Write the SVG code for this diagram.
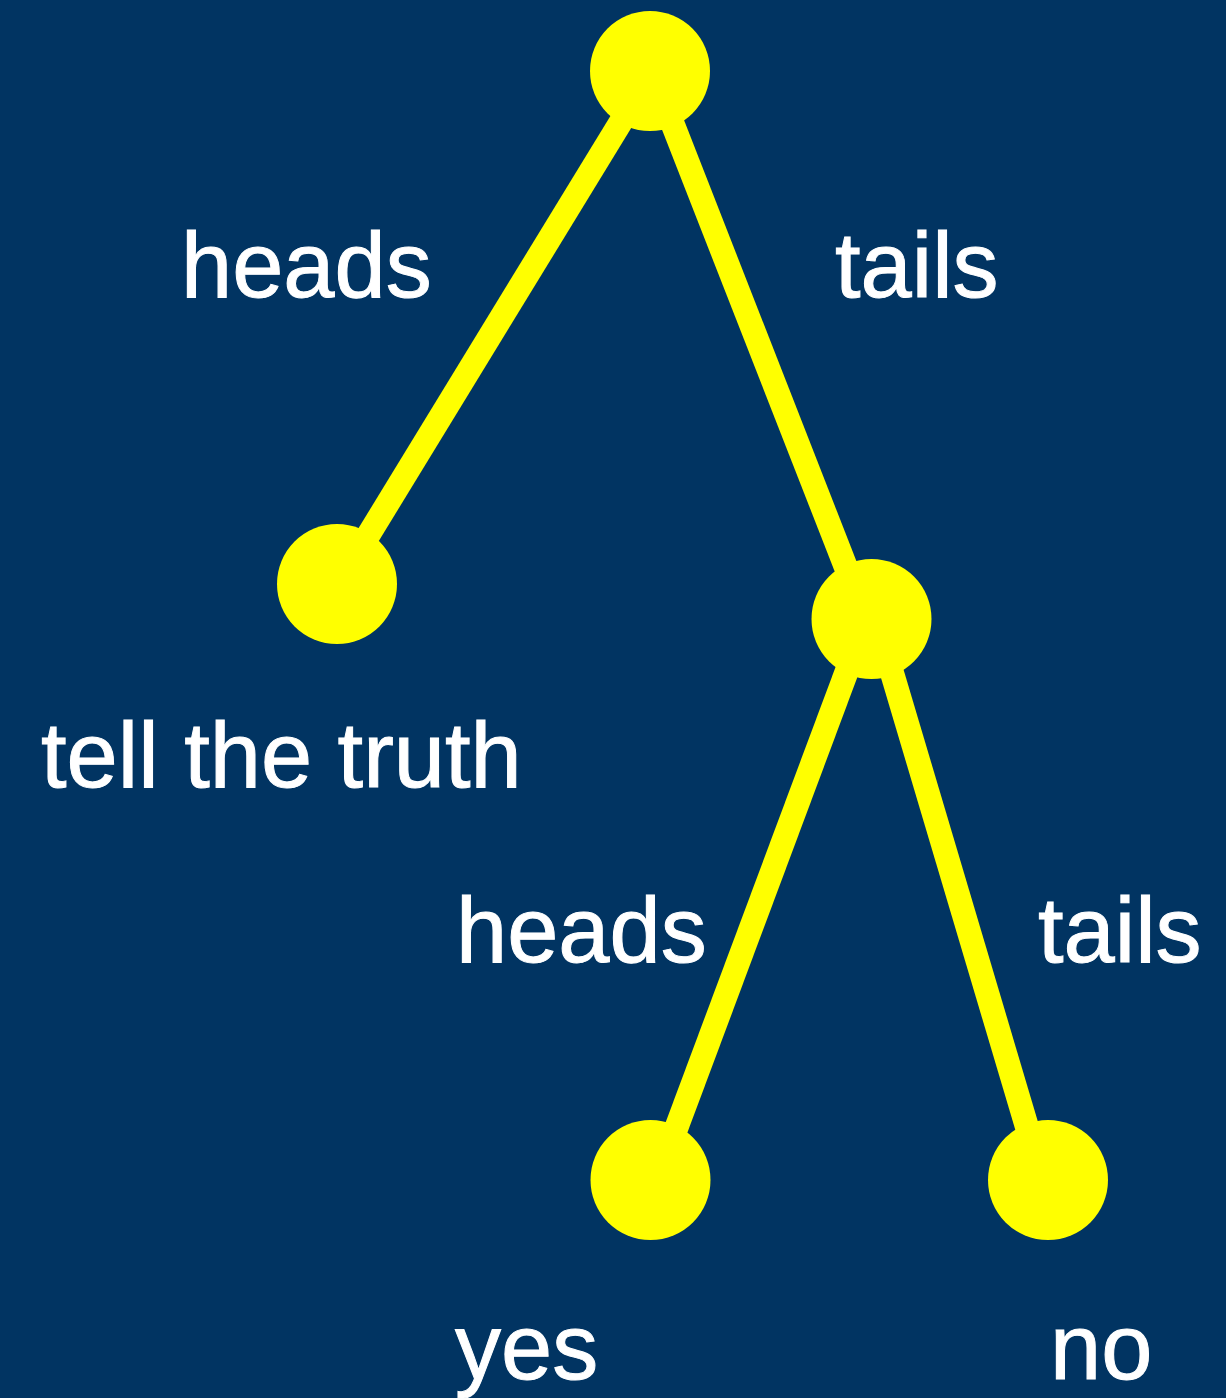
<svg xmlns="http://www.w3.org/2000/svg" width="1226" height="1398" viewBox="0 0 1226 1398">
  <style>
    .edge { stroke: #ffff00; stroke-width: 24; stroke-linecap: butt; fill: none; }
    .node { fill: #ffff00; }
    .lbl { fill: #ffffff; stroke: #ffffff; stroke-width: 1; font-family: "Liberation Sans", Arial, Helvetica, sans-serif; font-size: 92px; }
  </style>
  <rect x="0" y="0" width="1226" height="1398" fill="#013462"/>

  <!-- branches of the coin-flip tree -->
  <g id="connectors">
    <line class="edge" x1="625.7" y1="114" x2="363.8" y2="542.5"/>
    <line class="edge" x1="669.4" y1="115.7" x2="849.1" y2="575.3"/>
    <line class="edge" x1="850" y1="662.6" x2="673" y2="1136.9"/>
    <line class="edge" x1="889.2" y1="663.4" x2="1029.4" y2="1135.1"/>
  </g>

  <!-- branch labels -->
  <g id="edge-labels">
    <text class="lbl" x="181" y="297">heads</text>
    <text class="lbl" x="835" y="297">tails</text>
    <text class="lbl" x="456" y="962">heads</text>
    <text class="lbl" x="1038" y="962">tails</text>
  </g>

  <g id="root"><circle class="node" cx="650" cy="71" r="60"/></g>
  <g id="truth">
    <circle class="node" cx="337" cy="584" r="60"/>
    <text class="lbl" x="41" y="787">tell the truth</text>
  </g>
  <g id="second-flip"><circle class="node" cx="871.5" cy="619" r="60"/></g>
  <g id="yes">
    <circle class="node" cx="650.5" cy="1180" r="60"/>
    <text class="lbl" x="455" y="1379">yes</text>
  </g>
  <g id="no">
    <circle class="node" cx="1048" cy="1180" r="60"/>
    <text class="lbl" x="1050" y="1379">no</text>
  </g>
</svg>
